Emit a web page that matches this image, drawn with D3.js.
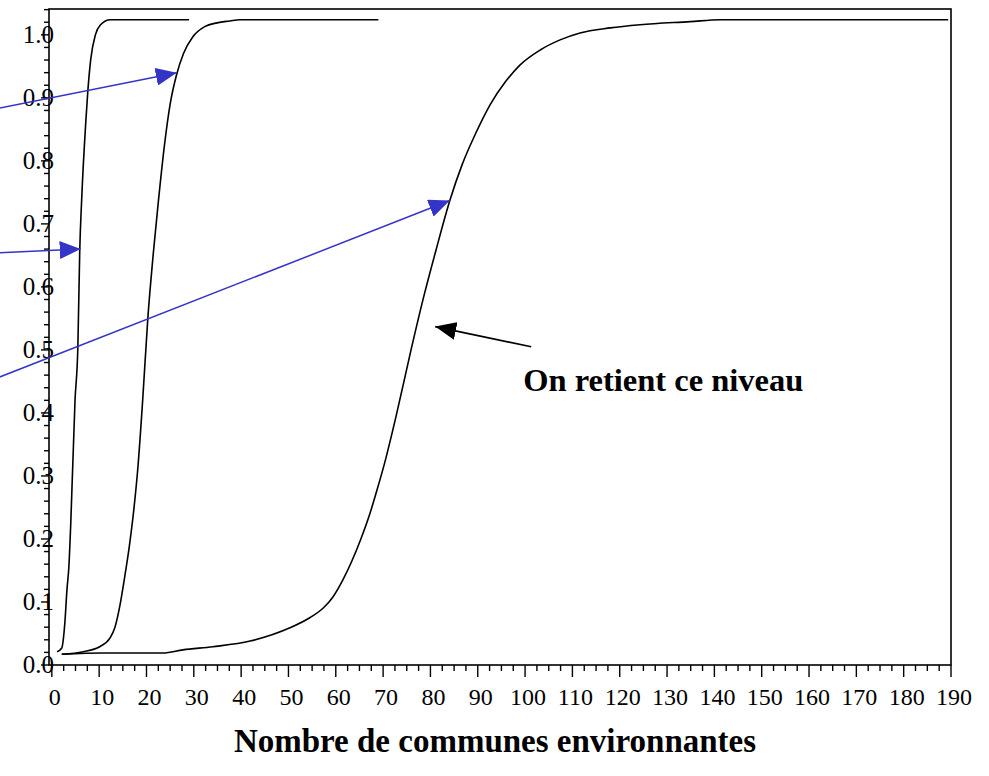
<!DOCTYPE html>
<html>
<head>
<meta charset="utf-8">
<script src="https://cdn.jsdelivr.net/npm/d3@7"></script>
<style>
  body { margin: 0; background: white; }
  text { font-family: "Liberation Serif", "Times New Roman", serif; }
</style>
</head>
<body>
<div id="chart"></div>
<script>
const width = 989
const height = 776

// courbes : [nombre de communes, proportion cumulée]
const niveau1 = [[1.1, 0.021], [2.1, 0.027], [2.75, 0.067], [3.2, 0.12], [3.6, 0.156], [4.0, 0.225],
    [4.9, 0.42], [5.5, 0.505], [5.9, 0.659], [6.3, 0.738], [7.2, 0.865], [7.6, 0.91], [8.2, 0.96],
    [9.2, 1.0], [10.3, 1.016], [12.3, 1.024], [29, 1.024]]
const niveau2 = [[2.1, 0.017], [6.6, 0.021], [10.1, 0.029], [12.3, 0.043], [13.3, 0.059], [14.4, 0.095],
    [15.4, 0.14], [16.4, 0.19], [17.3, 0.245], [18.2, 0.315], [19.2, 0.421], [20.3, 0.552],
    [21.4, 0.65], [22.5, 0.735], [23.8, 0.825], [25.0, 0.89], [26.3, 0.935], [27.8, 0.97],
    [29.8, 0.997], [32.3, 1.013], [34.9, 1.019], [37.6, 1.022], [39.7, 1.024], [69, 1.024]]
const niveau3 = [[2.1, 0.017], [10.8, 0.019], [23.5, 0.019], [27.7, 0.024], [34.0, 0.029], [41.9, 0.038],
    [50.3, 0.059], [54.5, 0.075], [57.3, 0.09], [59.4, 0.108], [61.5, 0.135], [63.4, 0.165],
    [65.3, 0.2], [67.2, 0.24], [68.8, 0.28], [70.3, 0.32], [72.9, 0.4], [75.9, 0.5], [78.4, 0.579],
    [81.2, 0.659], [84.1, 0.737], [86.7, 0.794], [89.4, 0.841], [92.6, 0.889], [95.8, 0.925],
    [98.9, 0.952], [103.2, 0.976], [107.4, 0.992], [111.6, 1.003], [118.0, 1.011], [124.3, 1.016],
    [134.9, 1.021], [141.2, 1.024], [189.4, 1.024]]

// flèches bleues (départ hors du cadre, pointe sur une courbe) et flèche noire
const flechesBleues = [
    {from: [-11, 0.884], to: [26.4, 0.94]},
    {from: [-11, 0.654], to: [6.1, 0.66]},
    {from: [-11, 0.457], to: [84.1, 0.737]}
]
const flecheNoire = {from: [101.3, 0.505], to: [81.0, 0.537]}
const annotation = {texte: "On retient ce niveau", pos: [99.6, 0.435]}

const xTicks = d3.range(0, 191, 10)
const xMinor = d3.range(0, 190.1, 2.5)
const yTicks = d3.range(0, 10.5, 1).map(d => d / 10)
const yMinor = d3.range(0, 52.5, 1).map(d => d / 50)
const titreX = "Nombre de communes environnantes"

const svg = d3.select("#chart").append("svg")
    .attr("width", width)
    .attr("height", height)
    .style("background-color", "white")

const x = d3.scaleLinear().domain([-0.6, 190]).range([49, 951])
const y = d3.scaleLinear().domain([0, 1.041]).range([665, 9])

const defs = svg.append("defs")
function marker(id, color) {
    defs.append("marker")
        .attr("id", id)
        .attr("viewBox", "0 0 21 18")
        .attr("refX", 21).attr("refY", 9)
        .attr("markerWidth", 21).attr("markerHeight", 18)
        .attr("markerUnits", "userSpaceOnUse")
        .attr("orient", "auto")
        .append("path")
        .attr("d", "M0,0L21,9L0,18Z")
        .attr("fill", color)
}
marker("tete-bleue", "#3434c8")
marker("tete-noire", "#000")

// petites graduations
svg.append("g").selectAll("line").data(xMinor).join("line")
    .attr("x1", d => x(d)).attr("x2", d => x(d))
    .attr("y1", 665).attr("y2", d => d % 10 === 0 ? 677 : 671)
    .attr("stroke", "black").attr("stroke-width", 1.4)
svg.append("g").selectAll("line").data(yMinor).join("line")
    .attr("x1", 49).attr("x2", (d, i) => i % 5 === 0 ? 41 : 44)
    .attr("y1", d => y(d)).attr("y2", d => y(d))
    .attr("stroke", "black").attr("stroke-width", 1.4)

// étiquettes des axes
svg.append("g").selectAll("text").data(xTicks).join("text")
    .attr("x", d => x(d) + 3)
    .attr("y", 705)
    .attr("text-anchor", "middle")
    .attr("font-size", 24)
    .text(d => d)
svg.append("g").selectAll("text").data(yTicks).join("text")
    .attr("x", 54)
    .attr("y", d => y(d) + 8)
    .attr("text-anchor", "end")
    .attr("font-size", 25)
    .text(d => d.toFixed(1))

// cadre
svg.append("rect")
    .attr("x", 49).attr("y", 9)
    .attr("width", 902).attr("height", 656)
    .attr("fill", "none")
    .attr("stroke", "black")
    .attr("stroke-width", 1.6)

const ligne = d3.line()
    .x(d => x(d[0]))
    .y(d => y(d[1]))
    .curve(d3.curveMonotoneX)

svg.append("g").selectAll("path")
    .data([niveau1, niveau2, niveau3])
    .join("path")
    .attr("d", ligne)
    .attr("fill", "none")
    .attr("stroke", "black")
    .attr("stroke-width", 1.6)

svg.append("g").selectAll("line").data(flechesBleues).join("line")
    .attr("x1", d => x(d.from[0])).attr("y1", d => y(d.from[1]))
    .attr("x2", d => x(d.to[0])).attr("y2", d => y(d.to[1]))
    .attr("stroke", "#3434c8")
    .attr("stroke-width", 1.5)
    .attr("marker-end", "url(#tete-bleue)")

svg.append("line")
    .attr("x1", x(flecheNoire.from[0])).attr("y1", y(flecheNoire.from[1]))
    .attr("x2", x(flecheNoire.to[0])).attr("y2", y(flecheNoire.to[1]))
    .attr("stroke", "black")
    .attr("stroke-width", 1.6)
    .attr("marker-end", "url(#tete-noire)")

svg.append("text")
    .attr("x", x(annotation.pos[0]))
    .attr("y", y(annotation.pos[1]))
    .attr("font-size", 32.5)
    .attr("font-weight", "bold")
    .text(annotation.texte)

svg.append("text")
    .attr("x", 495)
    .attr("y", 752)
    .attr("text-anchor", "middle")
    .attr("font-size", 33)
    .attr("font-weight", "bold")
    .text(titreX)
</script>
</body>
</html>
